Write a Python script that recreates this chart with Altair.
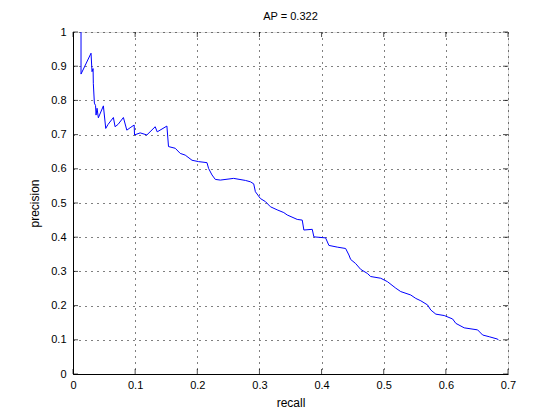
import altair as alt
import pandas as pd

recall = [0.0129, 0.0129, 0.0290, 0.0306, 0.0323, 0.0327, 0.0344, 0.0363, 0.0371, 0.0387,
          0.0408, 0.0489, 0.0527, 0.0565, 0.0650, 0.0677, 0.0726, 0.0811, 0.0866, 0.0919,
          0.0984, 0.0990, 0.1081, 0.1189, 0.1323, 0.1355, 0.1511, 0.1537, 0.1645, 0.1726,
          0.1806, 0.1915, 0.2021, 0.2156, 0.2182, 0.2237, 0.2290, 0.2371, 0.2585, 0.2774,
          0.2855, 0.2908, 0.2935, 0.3016, 0.3097, 0.3177, 0.3285, 0.3392, 0.3447, 0.3608,
          0.3689, 0.3715, 0.3850, 0.3876, 0.4065, 0.4118, 0.4253, 0.4387, 0.4440, 0.4468,
          0.4548, 0.4629, 0.4737, 0.4790, 0.4952, 0.5060, 0.5194, 0.5274, 0.5435, 0.5516,
          0.5597, 0.5705, 0.5758, 0.5839, 0.5973, 0.6108, 0.6161, 0.6295, 0.6511, 0.6592,
          0.6698, 0.6834, 0.6843]
precision = [1.000, 0.877, 0.938, 0.884, 0.893, 0.850, 0.792, 0.785, 0.757, 0.777,
             0.749, 0.784, 0.718, 0.730, 0.750, 0.723, 0.730, 0.750, 0.713, 0.720,
             0.728, 0.699, 0.705, 0.699, 0.723, 0.708, 0.725, 0.665, 0.660, 0.645,
             0.640, 0.625, 0.621, 0.618, 0.601, 0.582, 0.569, 0.567, 0.572, 0.566,
             0.562, 0.556, 0.533, 0.513, 0.504, 0.489, 0.480, 0.472, 0.465, 0.452,
             0.450, 0.421, 0.423, 0.401, 0.398, 0.376, 0.371, 0.367, 0.348, 0.335,
             0.323, 0.306, 0.294, 0.285, 0.280, 0.270, 0.251, 0.241, 0.231, 0.221,
             0.214, 0.202, 0.187, 0.175, 0.171, 0.161, 0.148, 0.135, 0.129, 0.114,
             0.109, 0.102, 0.099]

x_ticks = [0, 0.1, 0.2, 0.3, 0.4, 0.5, 0.6, 0.7]
y_ticks = [0, 0.1, 0.2, 0.3, 0.4, 0.5, 0.6, 0.7, 0.8, 0.9, 1]

FONT = "Liberation Sans"
W, H = 435, 342

df = pd.DataFrame({"recall": recall, "precision": precision, "order": list(range(len(recall)))})
xt = pd.DataFrame({"recall": x_ticks})
yt = pd.DataFrame({"precision": y_ticks})

xscale = alt.Scale(domain=[0, 0.7], nice=False, zero=False)
yscale = alt.Scale(domain=[0, 1], nice=False, zero=False)

common_axis = dict(format="~g", grid=True, gridColor="black", gridDash=[1, 5], gridOpacity=1,
                   gridWidth=1, tickSize=0, labelFont=FONT, labelFontSize=11,
                   labelColor="black", titleFont=FONT, titleFontSize=12,
                   titleFontWeight="normal", titleColor="black", domainColor="black",
                   labelFlush=False, labelOverlap=False)
xaxis = alt.Axis(values=x_ticks, title="recall", labelPadding=5, titlePadding=7, **common_axis)
yaxis = alt.Axis(values=y_ticks, title="precision", labelPadding=7, titlePadding=9, **common_axis)

line = alt.Chart(df).mark_line(color="#0000FF", strokeWidth=1, clip=True).encode(
    x=alt.X("recall:Q", scale=xscale, axis=xaxis),
    y=alt.Y("precision:Q", scale=yscale, axis=yaxis),
    order="order:Q",
)

xtick_bottom = alt.Chart(xt).mark_tick(color="black", size=5, thickness=1, orient="vertical").encode(
    x=alt.X("recall:Q", scale=xscale, axis=xaxis), y=alt.value(H - 2.5))
xtick_top = alt.Chart(xt).mark_tick(color="black", size=5, thickness=1, orient="vertical").encode(
    x=alt.X("recall:Q", scale=xscale, axis=xaxis), y=alt.value(2.5))
ytick_left = alt.Chart(yt).mark_tick(color="black", size=5, thickness=1, orient="horizontal").encode(
    y=alt.Y("precision:Q", scale=yscale, axis=yaxis), x=alt.value(2.5))
ytick_right = alt.Chart(yt).mark_tick(color="black", size=5, thickness=1, orient="horizontal").encode(
    y=alt.Y("precision:Q", scale=yscale, axis=yaxis), x=alt.value(W - 2.5))

chart = alt.layer(line, xtick_bottom, xtick_top, ytick_left, ytick_right).properties(
    width=W, height=H,
    title=alt.TitleParams("AP = 0.322", font=FONT, fontSize=11, fontWeight="normal",
                          color="black", offset=4),
    autosize=alt.AutoSizeParams(type="none"),
    padding={"left": 65, "top": 24, "right": 40, "bottom": 40},
).configure_view(stroke="black", strokeWidth=1).configure(background="white")

chart.save("out.html", embed_options={"renderer": "svg", "actions": False})
